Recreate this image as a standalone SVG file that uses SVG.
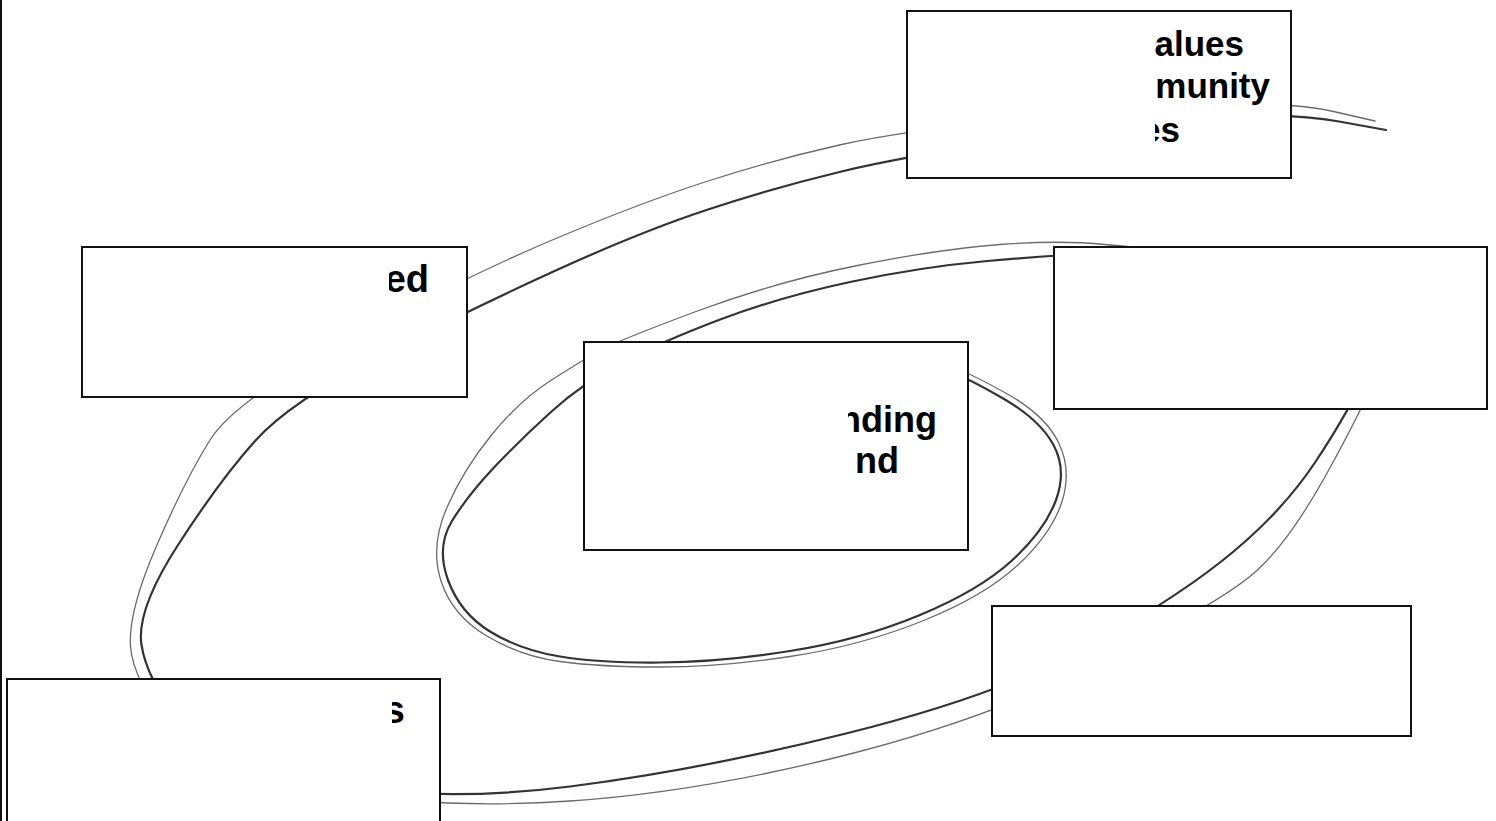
<svg xmlns="http://www.w3.org/2000/svg" width="1496" height="821" viewBox="0 0 1496 821">
  <style>
    .box { fill: #ffffff; stroke: #111111; stroke-width: 2; }
    .lbl { font-family: "Liberation Sans", Arial, sans-serif; font-weight: bold; fill: #000000; text-anchor: end; }
    .thick { fill: none; stroke: #333333; stroke-width: 2.2; stroke-linecap: round; }
    .thin { fill: none; stroke: #6a6a6a; stroke-width: 1.3; stroke-linecap: round; }
  </style>
  <defs>
    <clipPath id="clipTop"><rect x="1155" y="11" width="136" height="167"/></clipPath>
    <clipPath id="clipLeft"><rect x="389" y="247" width="78" height="150"/></clipPath>
    <clipPath id="clipCenter"><rect x="848" y="342" width="120" height="208"/></clipPath>
    <clipPath id="clipBL"><rect x="392" y="679" width="48" height="142"/></clipPath>
  </defs>
  <rect x="0" y="0" width="1496" height="821" fill="#ffffff"/>
  <line x1="1" y1="0" x2="1" y2="821" stroke="#111111" stroke-width="2"/>

  <g id="connectors">
    <path class="thin" d="M 1375 121 L 1333.5 111.5 Q 1292 102 1221 105 Q 1150 108 1028 119 Q 906 130 839.5 145 Q 773 160 706.5 181.5 Q 640 203 553.5 239.5 Q 467 276 351 338 Q 235 400 210 440 Q 185 480 156.5 546 Q 128 612 130.5 646 Q 133 680 169 725 Q 205 770 322.5 790 Q 440 810 570 801 Q 700 792 846 755 Q 992 718 1108.5 659 Q 1225 600 1257.5 570 Q 1290 540 1326 475 Q 1362 410 1381 365 Q 1400 320 1350 289 Q 1300 258 1225 253.5 Q 1150 249 1105 244.5 Q 1060 240 1000 244.5 Q 940 249 857.5 265.5 Q 775 282 696 311.5 Q 617 341 600 350.5 Q 583 360 551.5 380 Q 520 400 491.5 435 Q 463 470 446.5 508.5 Q 430 547 441 581 Q 452 615 486 635.5 Q 520 656 560 661.5 Q 600 667 660 667 Q 720 667 790 656.5 Q 860 646 922.5 621 Q 985 596 1018.5 564.5 Q 1052 533 1062 501.5 Q 1072 470 1058.5 442.5 Q 1045 415 1006.5 393.5 Q 968 372 944 363.5 L 920 355"/>
    <path class="thick" d="M 1386 130 L 1339 121.5 Q 1292 113 1221 116.5 Q 1150 120 1028 138 Q 906 156 839.5 172 Q 773 188 706.5 210 Q 640 232 553.5 271.5 Q 467 311 378.5 356.5 Q 290 402 255 441 Q 220 480 178 545 Q 136 610 141.5 645 Q 147 680 181 722.5 Q 215 765 327.5 784 Q 440 803 570 786.5 Q 700 770 846 733.5 Q 992 697 1078.5 651.5 Q 1165 606 1222.5 560.5 Q 1280 515 1315 462.5 Q 1350 410 1370 365 Q 1390 320 1345 294 Q 1300 268 1225 260 Q 1150 252 1102.5 253.5 Q 1055 255 987.5 261 Q 920 267 850 282 Q 780 297 721.5 319 Q 663 341 623 362 Q 583 383 551.5 411.5 Q 520 440 494 467.5 Q 468 495 452 521 Q 436 547 448 580 Q 460 613 490 631.5 Q 520 650 560 656.5 Q 600 663 660 662.5 Q 720 662 790 651 Q 860 640 920 615 Q 980 590 1012.5 560 Q 1045 530 1056 500 Q 1067 470 1053.5 445 Q 1040 420 1004 399 Q 968 378 944 369 L 920 360"/>
  </g>

  <g id="node-top">
    <rect class="box" x="907" y="11" width="384" height="167"/>
    <g clip-path="url(#clipTop)">
      <text class="lbl" font-size="35" x="1244" y="56">alues</text>
      <text class="lbl" font-size="35" x="1270" y="98">munity</text>
      <text class="lbl" font-size="35" x="1180" y="142">es</text>
    </g>
  </g>

  <g id="node-left">
    <rect class="box" x="82" y="247" width="385" height="150"/>
    <g clip-path="url(#clipLeft)">
      <text class="lbl" font-size="38" x="429" y="292">ed</text>
    </g>
  </g>

  <g id="node-right">
    <rect class="box" x="1054" y="247" width="433" height="162"/>
  </g>

  <g id="node-center">
    <rect class="box" x="584" y="342" width="384" height="208"/>
    <g clip-path="url(#clipCenter)">
      <text class="lbl" font-size="36" x="937" y="432">nding</text>
      <text class="lbl" font-size="36" x="899" y="473">nd</text>
    </g>
  </g>

  <g id="node-bottom-right">
    <rect class="box" x="992" y="606" width="419" height="130"/>
  </g>

  <g id="node-bottom-left">
    <rect class="box" x="7" y="679" width="433" height="160"/>
    <g clip-path="url(#clipBL)">
      <text class="lbl" font-size="38" x="405" y="723">s</text>
    </g>
  </g>
</svg>
